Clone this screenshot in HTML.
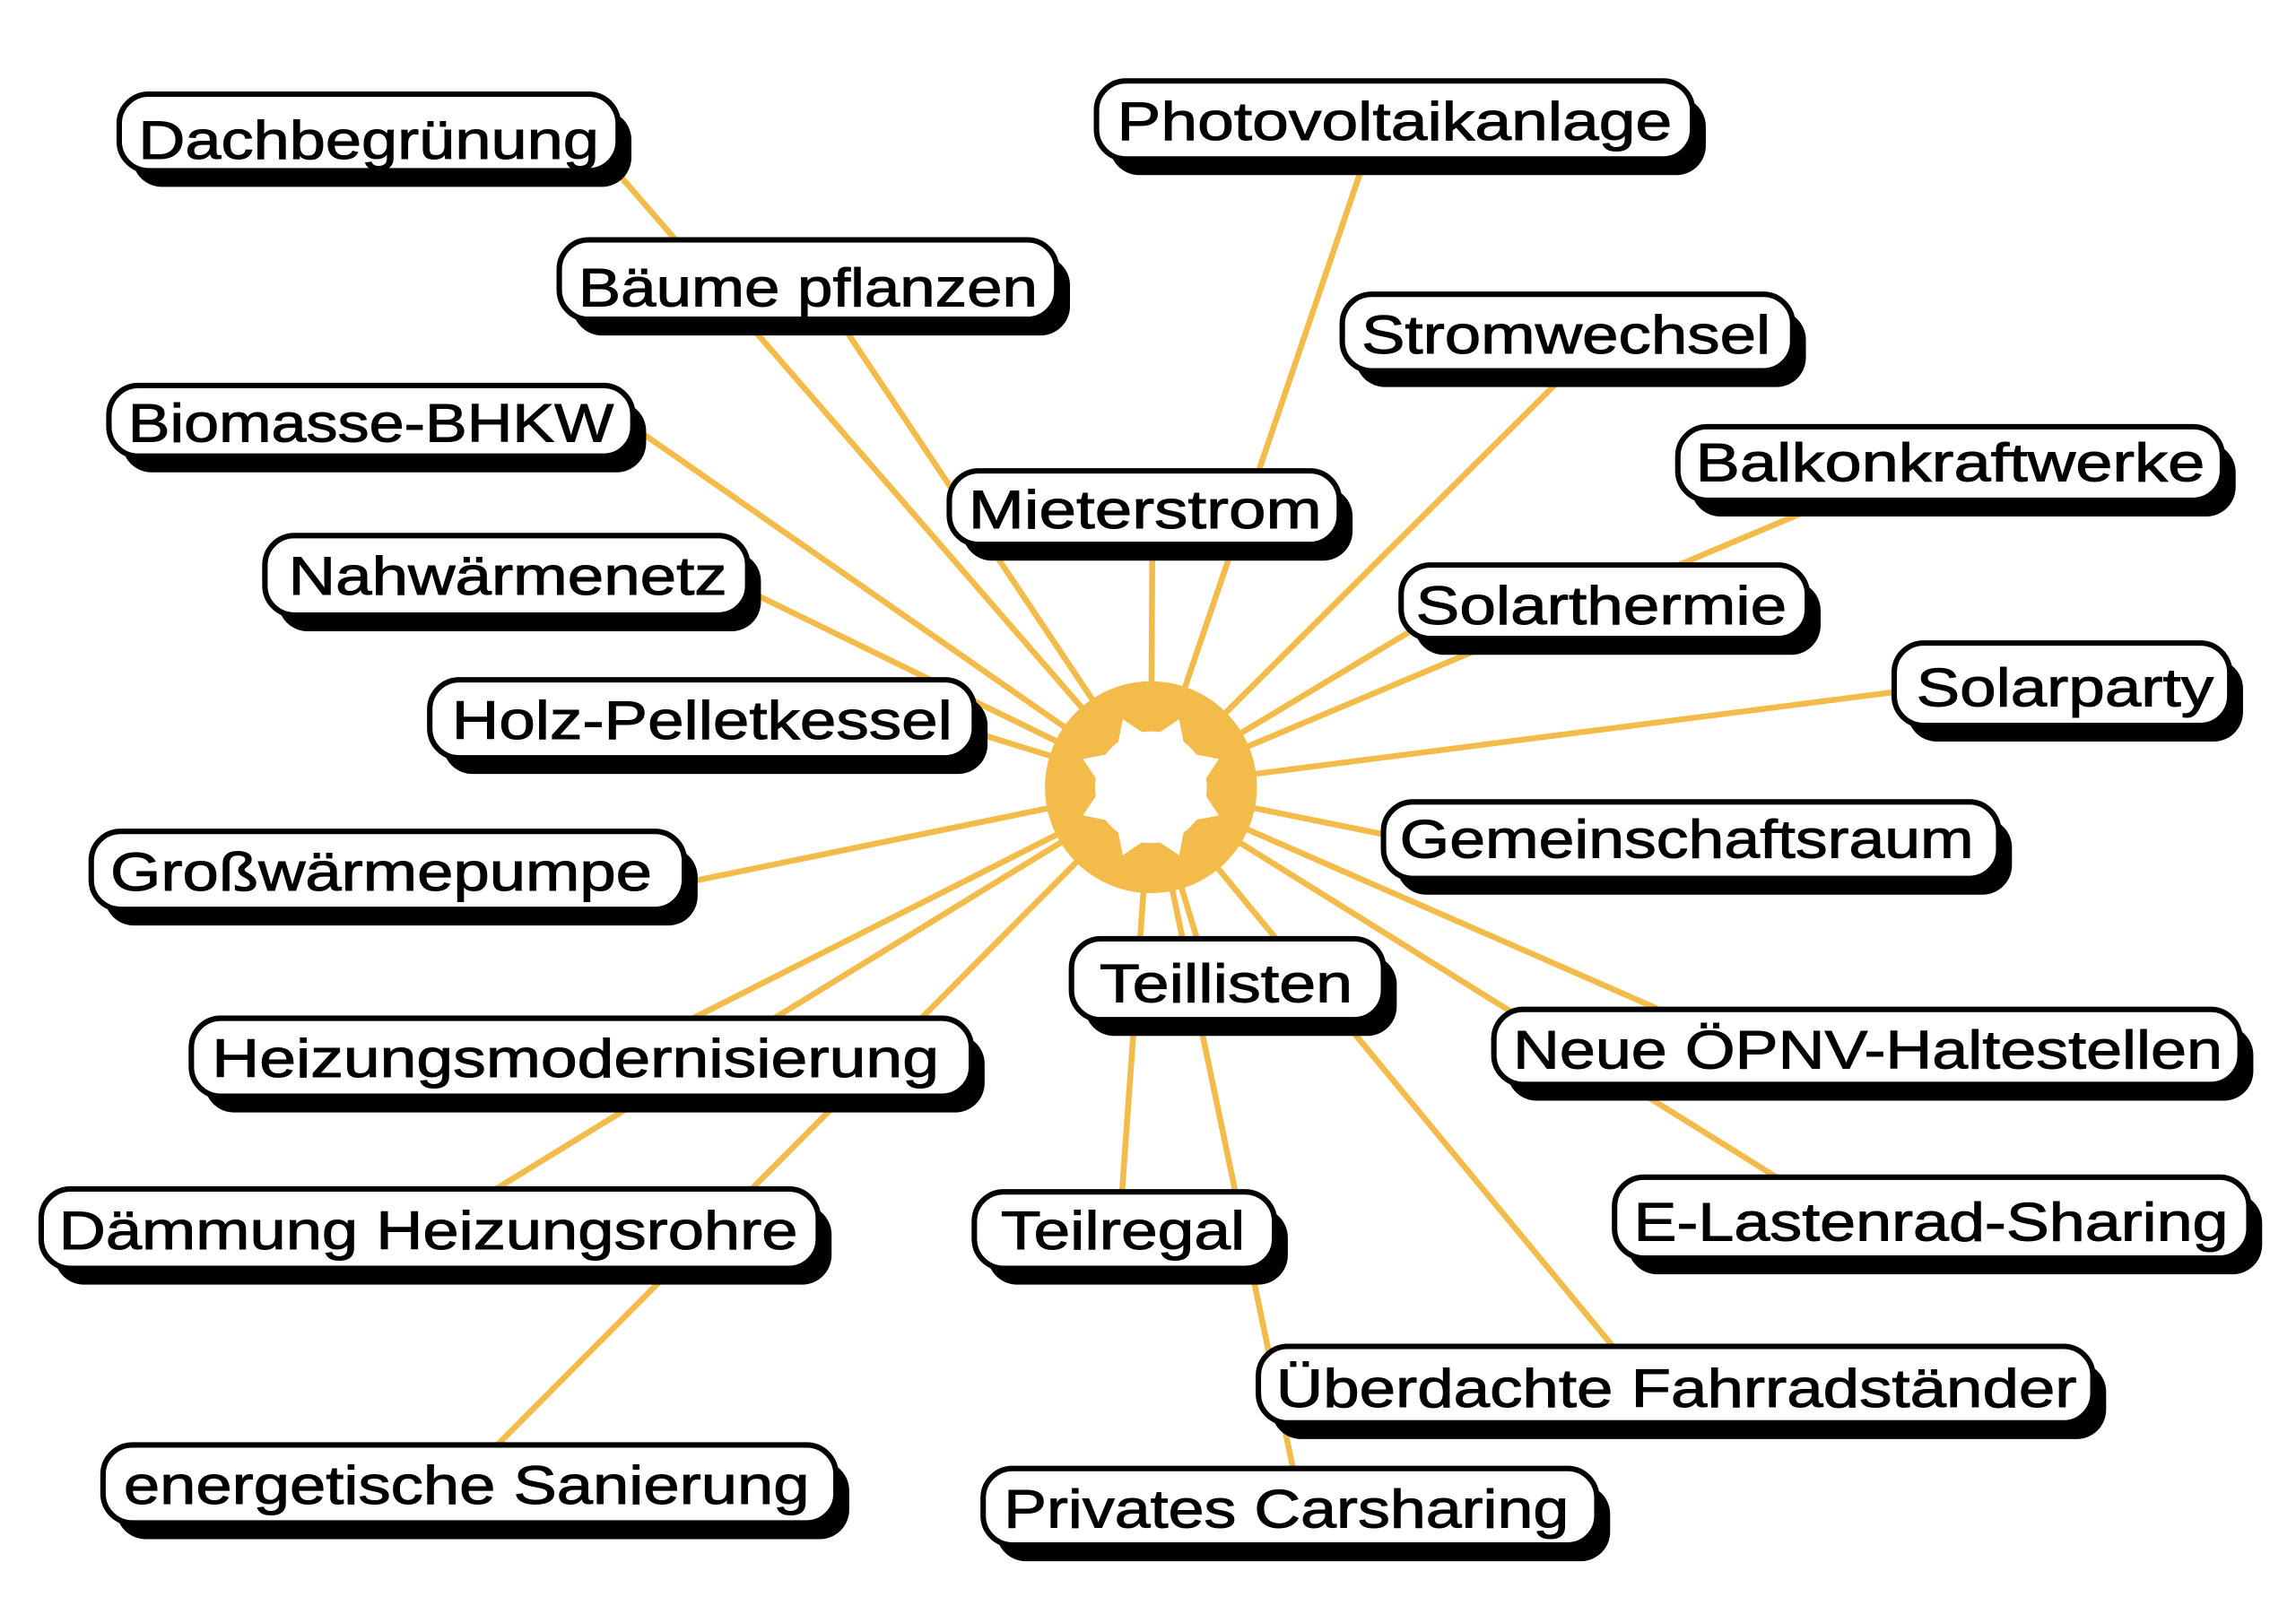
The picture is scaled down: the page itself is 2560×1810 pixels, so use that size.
<!DOCTYPE html>
<html><head><meta charset="utf-8"><style>html,body{margin:0;padding:0;background:#fff}svg{display:block}</style></head>
<body>
<svg width="2560" height="1810" viewBox="0 0 1560 1103" preserveAspectRatio="none" xmlns="http://www.w3.org/2000/svg">
<rect width="1560" height="1103" fill="#fff"/>
<g stroke="#F2BB4A" stroke-width="4" stroke-linecap="round">
<line x1="782" y1="535" x2="420" y2="118"/>
<line x1="782" y1="535" x2="575" y2="225"/>
<line x1="782" y1="535" x2="430" y2="290"/>
<line x1="782" y1="535" x2="505" y2="400"/>
<line x1="782" y1="535" x2="660" y2="497"/>
<line x1="782" y1="535" x2="465" y2="600"/>
<line x1="782" y1="535" x2="455" y2="700"/>
<line x1="782" y1="535" x2="293" y2="835"/>
<line x1="782" y1="535" x2="320" y2="1000"/>
<line x1="782" y1="535" x2="925" y2="115"/>
<line x1="782" y1="535" x2="1068" y2="250"/>
<line x1="782" y1="535" x2="783" y2="360"/>
<line x1="782" y1="535" x2="1245" y2="340"/>
<line x1="782" y1="535" x2="960" y2="428"/>
<line x1="782" y1="535" x2="1290" y2="470"/>
<line x1="782" y1="535" x2="945" y2="568"/>
<line x1="782" y1="535" x2="820" y2="660"/>
<line x1="782" y1="535" x2="1125" y2="685"/>
<line x1="782" y1="535" x2="1215" y2="805"/>
<line x1="782" y1="535" x2="762" y2="815"/>
<line x1="782" y1="535" x2="1100" y2="920"/>
<line x1="782" y1="535" x2="880" y2="1005"/>
</g>
<circle cx="782" cy="535" r="72" fill="#F2BB4A"/>
<g fill="#fff" transform="translate(782,535)">
<circle r="38"/>
<polygon points="-10,-35 10,-35 0,-50" transform="rotate(22.5)"/>
<polygon points="-10,-35 10,-35 0,-50" transform="rotate(-22.5)"/>
<polygon points="-10,-35 10,-35 0,-50" transform="rotate(67.5)"/>
<polygon points="-10,-35 10,-35 0,-50" transform="rotate(-67.5)"/>
<polygon points="-10,-35 10,-35 0,-50" transform="rotate(112.5)"/>
<polygon points="-10,-35 10,-35 0,-50" transform="rotate(-112.5)"/>
<polygon points="-10,-35 10,-35 0,-50" transform="rotate(157.5)"/>
<polygon points="-10,-35 10,-35 0,-50" transform="rotate(-157.5)"/>
</g>
<g font-family="Liberation Sans, DejaVu Sans, sans-serif" font-size="37" stroke-width="0.6">
<g><rect x="90" y="75" width="339" height="52" rx="20" fill="#000"/><rect x="81" y="64" width="339" height="52" rx="20" fill="#fff" stroke="#000" stroke-width="3.7"/><text x="94" y="108" textLength="313" lengthAdjust="spacingAndGlyphs" stroke="#000">Dachbegrünung</text></g>
<g><rect x="389" y="174" width="338" height="54" rx="20" fill="#000"/><rect x="380" y="163" width="338" height="54" rx="20" fill="#fff" stroke="#000" stroke-width="3.7"/><text x="393" y="208" textLength="312" lengthAdjust="spacingAndGlyphs" stroke="#000">Bäume pflanzen</text></g>
<g><rect x="83" y="273" width="356" height="48" rx="20" fill="#000"/><rect x="74" y="262" width="356" height="48" rx="20" fill="#fff" stroke="#000" stroke-width="3.7"/><text x="87" y="300" textLength="330" lengthAdjust="spacingAndGlyphs" stroke="#000">Biomasse-BHKW</text></g>
<g><rect x="189" y="375" width="328" height="54" rx="20" fill="#000"/><rect x="180" y="364" width="328" height="54" rx="20" fill="#fff" stroke="#000" stroke-width="3.7"/><text x="196" y="404" textLength="298" lengthAdjust="spacingAndGlyphs" stroke="#000">Nahwärmenetz</text></g>
<g><rect x="301" y="473" width="370" height="53" rx="20" fill="#000"/><rect x="292" y="462" width="370" height="53" rx="20" fill="#fff" stroke="#000" stroke-width="3.7"/><text x="307" y="502" textLength="340" lengthAdjust="spacingAndGlyphs" stroke="#000">Holz-Pelletkessel</text></g>
<g><rect x="71" y="576" width="403" height="53" rx="20" fill="#000"/><rect x="62" y="565" width="403" height="53" rx="20" fill="#fff" stroke="#000" stroke-width="3.7"/><text x="75" y="605" textLength="368" lengthAdjust="spacingAndGlyphs" stroke="#000">Großwärmepumpe</text></g>
<g><rect x="139" y="703" width="530" height="53" rx="20" fill="#000"/><rect x="130" y="692" width="530" height="53" rx="20" fill="#fff" stroke="#000" stroke-width="3.7"/><text x="144" y="732" textLength="494" lengthAdjust="spacingAndGlyphs" stroke="#000">Heizungsmodernisierung</text></g>
<g><rect x="37" y="819" width="528" height="54" rx="20" fill="#000"/><rect x="28" y="808" width="528" height="54" rx="20" fill="#fff" stroke="#000" stroke-width="3.7"/><text x="40" y="849" textLength="502" lengthAdjust="spacingAndGlyphs" stroke="#000">Dämmung Heizungsrohre</text></g>
<g><rect x="79" y="993" width="498" height="53" rx="20" fill="#000"/><rect x="70" y="982" width="498" height="53" rx="20" fill="#fff" stroke="#000" stroke-width="3.7"/><text x="84" y="1022" textLength="466" lengthAdjust="spacingAndGlyphs" stroke="#000">energetische Sanierung</text></g>
<g><rect x="754" y="66" width="405" height="53" rx="20" fill="#000"/><rect x="745" y="55" width="405" height="53" rx="20" fill="#fff" stroke="#000" stroke-width="3.7"/><text x="759" y="95" textLength="377" lengthAdjust="spacingAndGlyphs" stroke="#000">Photovoltaikanlage</text></g>
<g><rect x="921" y="211" width="306" height="52" rx="20" fill="#000"/><rect x="912" y="200" width="306" height="52" rx="20" fill="#fff" stroke="#000" stroke-width="3.7"/><text x="925" y="240" textLength="278" lengthAdjust="spacingAndGlyphs" stroke="#000">Stromwechsel</text></g>
<g><rect x="654" y="331" width="265" height="50" rx="20" fill="#000"/><rect x="645" y="320" width="265" height="50" rx="20" fill="#fff" stroke="#000" stroke-width="3.7"/><text x="658" y="359" textLength="240" lengthAdjust="spacingAndGlyphs" stroke="#000">Mieterstrom</text></g>
<g><rect x="1149" y="301" width="370" height="50" rx="20" fill="#000"/><rect x="1140" y="290" width="370" height="50" rx="20" fill="#fff" stroke="#000" stroke-width="3.7"/><text x="1152" y="327" textLength="346" lengthAdjust="spacingAndGlyphs" stroke="#000">Balkonkraftwerke</text></g>
<g><rect x="961" y="395" width="276" height="50" rx="20" fill="#000"/><rect x="952" y="384" width="276" height="50" rx="20" fill="#fff" stroke="#000" stroke-width="3.7"/><text x="962" y="424" textLength="252" lengthAdjust="spacingAndGlyphs" stroke="#000">Solarthermie</text></g>
<g><rect x="1296" y="448" width="228" height="56" rx="20" fill="#000"/><rect x="1287" y="437" width="228" height="56" rx="20" fill="#fff" stroke="#000" stroke-width="3.7"/><text x="1302" y="480" textLength="202" lengthAdjust="spacingAndGlyphs" stroke="#000">Solarparty</text></g>
<g><rect x="949" y="556" width="418" height="52" rx="20" fill="#000"/><rect x="940" y="545" width="418" height="52" rx="20" fill="#fff" stroke="#000" stroke-width="3.7"/><text x="951" y="583" textLength="390" lengthAdjust="spacingAndGlyphs" stroke="#000">Gemeinschaftsraum</text></g>
<g><rect x="737" y="649" width="212" height="55" rx="20" fill="#000"/><rect x="728" y="638" width="212" height="55" rx="20" fill="#fff" stroke="#000" stroke-width="3.7"/><text x="747" y="681" textLength="172" lengthAdjust="spacingAndGlyphs" stroke="#000">Teillisten</text></g>
<g><rect x="1024" y="697" width="507" height="51" rx="20" fill="#000"/><rect x="1015" y="686" width="507" height="51" rx="20" fill="#fff" stroke="#000" stroke-width="3.7"/><text x="1028" y="726" textLength="482" lengthAdjust="spacingAndGlyphs" stroke="#000">Neue ÖPNV-Haltestellen</text></g>
<g><rect x="1106" y="811" width="431" height="55" rx="20" fill="#000"/><rect x="1097" y="800" width="431" height="55" rx="20" fill="#fff" stroke="#000" stroke-width="3.7"/><text x="1110" y="843" textLength="404" lengthAdjust="spacingAndGlyphs" stroke="#000">E-Lastenrad-Sharing</text></g>
<g><rect x="671" y="821" width="204" height="52" rx="20" fill="#000"/><rect x="662" y="810" width="204" height="52" rx="20" fill="#fff" stroke="#000" stroke-width="3.7"/><text x="680" y="849" textLength="166" lengthAdjust="spacingAndGlyphs" stroke="#000">Teilregal</text></g>
<g><rect x="864" y="926" width="567" height="52" rx="20" fill="#000"/><rect x="855" y="915" width="567" height="52" rx="20" fill="#fff" stroke="#000" stroke-width="3.7"/><text x="867" y="956" textLength="544" lengthAdjust="spacingAndGlyphs" stroke="#000">Überdachte Fahrradständer</text></g>
<g><rect x="677" y="1009" width="417" height="52" rx="20" fill="#000"/><rect x="668" y="998" width="417" height="52" rx="20" fill="#fff" stroke="#000" stroke-width="3.7"/><text x="682" y="1038" textLength="384" lengthAdjust="spacingAndGlyphs" stroke="#000">Privates Carsharing</text></g>
</g>
</svg>
</body></html>
